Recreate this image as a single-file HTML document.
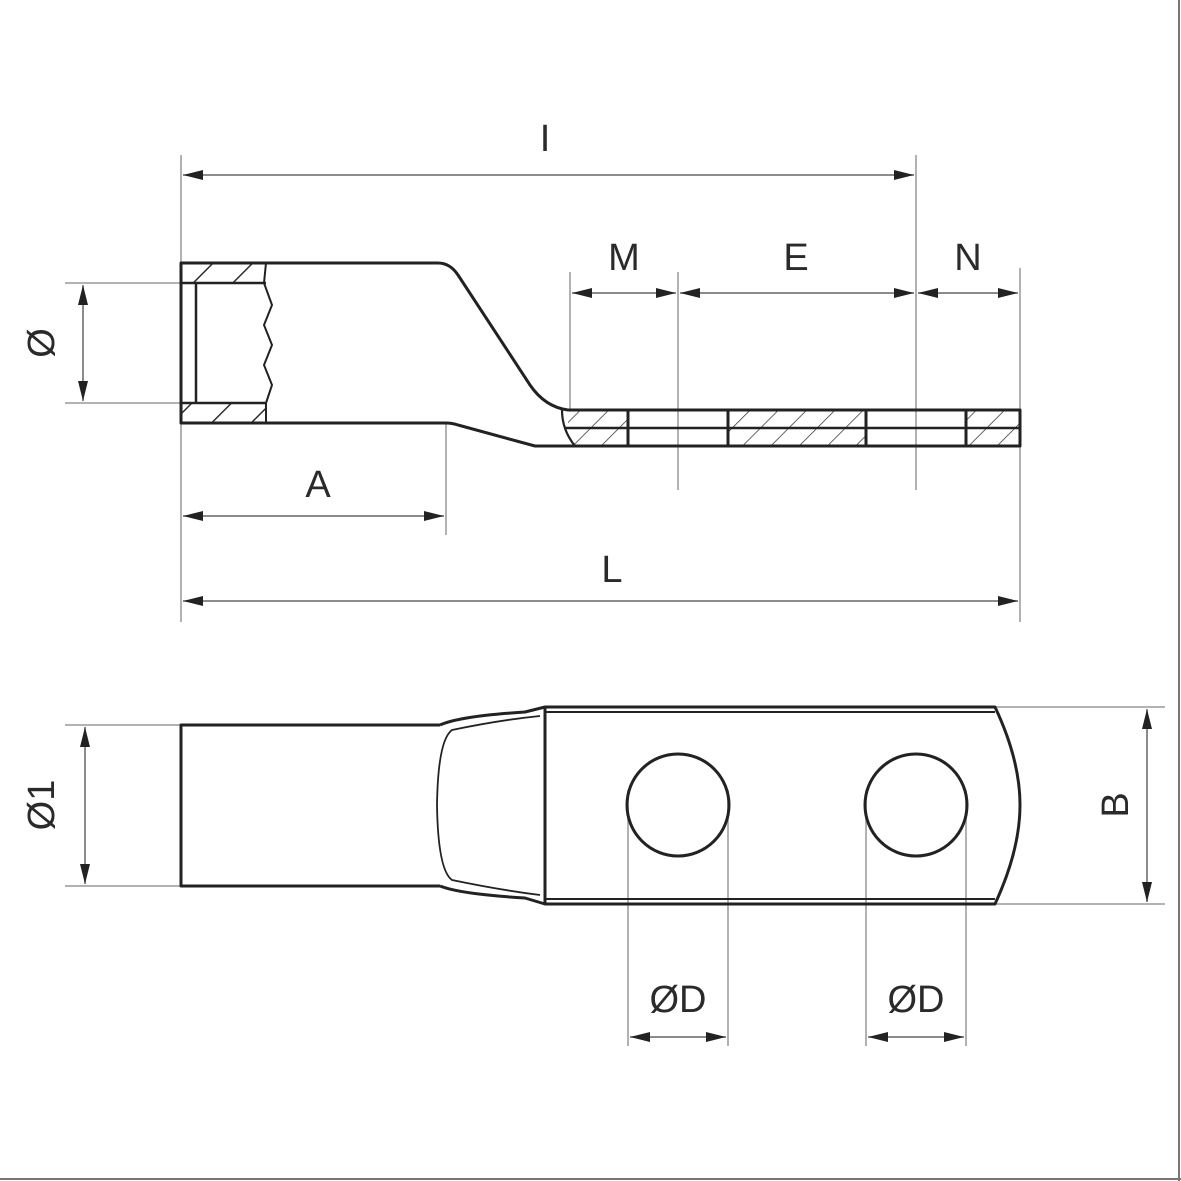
<!DOCTYPE html>
<html><head><meta charset="utf-8"><style>
html,body{margin:0;padding:0;background:#fff}
svg{display:block}
text{font-family:"Liberation Sans","DejaVu Sans",sans-serif;fill:#2a2a2a;font-size:38px}
</style></head><body>
<svg width="1181" height="1181" viewBox="0 0 1181 1181" xmlns="http://www.w3.org/2000/svg">
<defs>
<pattern id="h" patternUnits="userSpaceOnUse" width="20" height="20" patternTransform="rotate(45)">
<line x1="0" y1="0" x2="0" y2="20" stroke="#333" stroke-width="1.5"/>
</pattern>
<pattern id="h2" patternUnits="userSpaceOnUse" width="28" height="28" patternTransform="rotate(45)">
<line x1="0" y1="0" x2="0" y2="28" stroke="#222" stroke-width="2.8"/>
</pattern>
<marker id="a" viewBox="0 0 20 10" refX="20" refY="5" markerWidth="20" markerHeight="10" markerUnits="userSpaceOnUse" orient="auto-start-reverse">
<path d="M0,0 L20,5 L0,10 Z" fill="#222"/>
</marker>
</defs>
<line x1="0" y1="1179" x2="1181" y2="1179" stroke="#777" stroke-width="2"/>
<line x1="1179" y1="0" x2="1179" y2="1181" stroke="#777" stroke-width="2"/>

<g stroke="#999" stroke-width="1.5" fill="none">
<line x1="181" y1="155" x2="181" y2="622"/>
<line x1="916" y1="155" x2="916" y2="490"/>
<line x1="570" y1="272" x2="570" y2="410"/>
<line x1="678" y1="272" x2="678" y2="490"/>
<line x1="1020" y1="268" x2="1020" y2="622"/>
<line x1="446" y1="423" x2="446" y2="535"/>
<line x1="65" y1="283" x2="181" y2="283"/>
<line x1="65" y1="403" x2="181" y2="403"/>
<line x1="65" y1="725" x2="181" y2="725"/>
<line x1="65" y1="886" x2="181" y2="886"/>
<line x1="995" y1="707" x2="1165" y2="707"/>
<line x1="995" y1="904" x2="1165" y2="904"/>
<line x1="628" y1="790" x2="628" y2="1046"/>
<line x1="728" y1="790" x2="728" y2="1046"/>
<line x1="866" y1="790" x2="866" y2="1046"/>
<line x1="966" y1="790" x2="966" y2="1046"/>
</g>
<g stroke="#666" stroke-width="1.5" fill="none">
<line x1="183" y1="175" x2="914" y2="175" marker-start="url(#a)" marker-end="url(#a)"/>
<line x1="572" y1="293" x2="676" y2="293" marker-start="url(#a)" marker-end="url(#a)"/>
<line x1="680" y1="293" x2="914" y2="293" marker-start="url(#a)" marker-end="url(#a)"/>
<line x1="918" y1="293" x2="1018" y2="293" marker-start="url(#a)" marker-end="url(#a)"/>
<line x1="83" y1="285" x2="83" y2="401" marker-start="url(#a)" marker-end="url(#a)"/>
<line x1="183" y1="516" x2="444" y2="516" marker-start="url(#a)" marker-end="url(#a)"/>
<line x1="183" y1="601" x2="1018" y2="601" marker-start="url(#a)" marker-end="url(#a)"/>
<line x1="85" y1="727" x2="85" y2="884" marker-start="url(#a)" marker-end="url(#a)"/>
<line x1="1147" y1="709" x2="1147" y2="902" marker-start="url(#a)" marker-end="url(#a)"/>
<line x1="630" y1="1037" x2="726" y2="1037" marker-start="url(#a)" marker-end="url(#a)"/>
<line x1="868" y1="1037" x2="964" y2="1037" marker-start="url(#a)" marker-end="url(#a)"/>
</g>

<rect x="182" y="264" width="84" height="19" fill="url(#h2)"/>
<rect x="182" y="403" width="84" height="19" fill="url(#h2)"/>
<rect x="568" y="411" width="60" height="34" fill="url(#h)"/>
<rect x="728" y="411" width="138" height="34" fill="url(#h)"/>
<rect x="966" y="411" width="54" height="34" fill="url(#h)"/>

<g stroke="#222" stroke-width="3" fill="none" stroke-linejoin="round">
<path d="M181,263 L438,263 Q450,263 458,275 L530,385 Q545,407 568,410 L1020,410 L1020,446 L535,446 L458,425 Q452,423 446,423 L181,423 Z"/>
<line x1="181" y1="263" x2="181" y2="423"/>
<line x1="196" y1="283" x2="196" y2="403" stroke-width="2.5"/>
<line x1="181" y1="283" x2="266" y2="283" stroke-width="2.5"/>
<line x1="181" y1="403" x2="266" y2="403" stroke-width="2.5"/>
<path d="M266,263 L264,283 L272,305 L264,325 L272,345 L264,365 L272,385 L266,403 L266,423" stroke-width="2"/>
<path d="M562,410 Q562,430 575,446" stroke-width="2.2"/>
<line x1="565" y1="428" x2="1020" y2="428" stroke-width="2.5"/>
<line x1="628" y1="410" x2="628" y2="446"/>
<line x1="728" y1="410" x2="728" y2="446"/>
<line x1="866" y1="410" x2="866" y2="446"/>
<line x1="966" y1="410" x2="966" y2="446"/>

<path d="M440,725 L181,725 L181,886 L440,886"/>
<path d="M440,725 Q460,716 525,712 L545,707 L995,707 Q1020,760 1020,805 Q1020,850 995,904 L545,904 L525,898 Q460,894 440,886"/>
<line x1="545" y1="707" x2="545" y2="904"/>
<line x1="545" y1="712" x2="995" y2="712" stroke-width="2"/>
<line x1="545" y1="899" x2="995" y2="899" stroke-width="2"/>
<path d="M540,716 Q500,720 452,730 Q438,740 437,805 Q438,870 452,880 Q500,890 540,895" stroke-width="1.8"/>
<circle cx="678" cy="805" r="51"/>
<circle cx="916" cy="805" r="51"/>
</g>

<text x="545" y="151" text-anchor="middle">I</text>
<text x="624" y="270" text-anchor="middle">M</text>
<text x="796" y="270" text-anchor="middle">E</text>
<text x="968" y="270" text-anchor="middle">N</text>
<text x="318" y="497" text-anchor="middle">A</text>
<text x="612" y="582" text-anchor="middle">L</text>
<text x="678" y="1012" text-anchor="middle">ØD</text>
<text x="916" y="1012" text-anchor="middle">ØD</text>
<text transform="translate(54,343) rotate(-90)" text-anchor="middle">Ø</text>
<text transform="translate(54,805) rotate(-90)" text-anchor="middle">Ø1</text>
<text transform="translate(1128,805) rotate(-90)" text-anchor="middle">B</text>
</svg>
</body></html>
